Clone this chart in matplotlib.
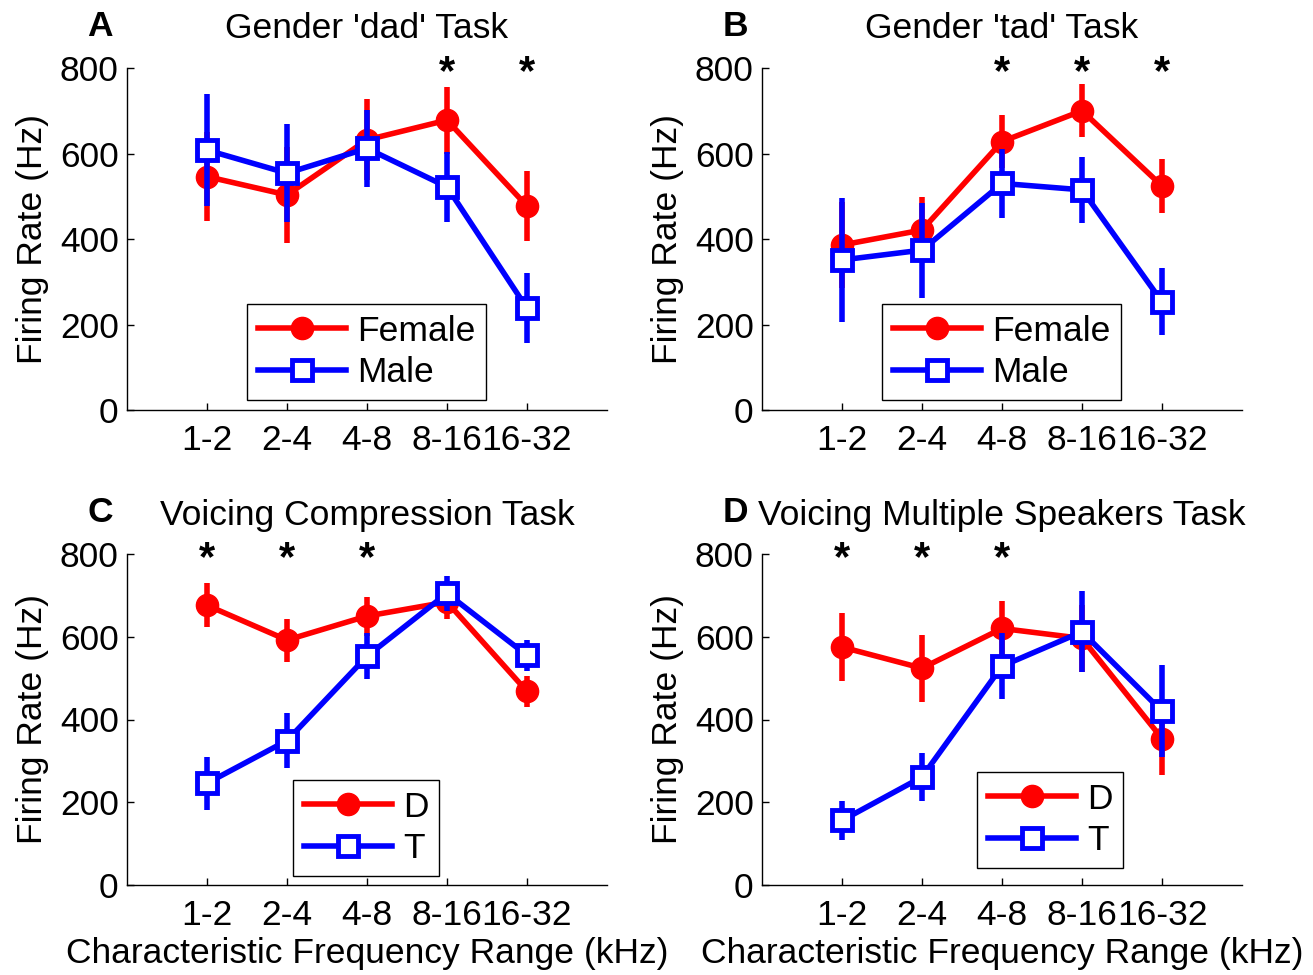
import matplotlib
matplotlib.use("Agg")
import matplotlib.pyplot as plt
from matplotlib.lines import Line2D
import numpy as np

plt.rcParams['font.family'] = ['Liberation Sans', 'DejaVu Sans']

ranges = ["1-2", "2-4", "4-8", "8-16", "16-32"]

# Panel A: Gender 'dad' task
a_female = [546, 503, 632, 678, 477]
a_female_err = [105, 112, 95, 78, 82]
a_male = [608, 554, 612, 522, 238]
a_male_err = [131, 115, 90, 82, 82]
a_stars = [4, 5]

# Panel B: Gender 'tad' task
b_female = [386, 421, 628, 700, 524]
b_female_err = [100, 78, 62, 62, 63]
b_male = [351, 374, 530, 515, 253]
b_male_err = [145, 111, 81, 77, 78]
b_stars = [3, 4, 5]

# Panel C: Voicing compression task
c_d = [676, 592, 650, 684, 468]
c_d_err = [53, 52, 47, 40, 37]
c_t = [246, 349, 553, 705, 555]
c_t_err = [64, 66, 55, 43, 37]
c_stars = [1, 2, 3]

# Panel D: Voicing multiple speakers task
d_d = [575, 524, 620, 596, 354]
d_d_err = [83, 81, 67, 80, 88]
d_t = [156, 261, 529, 612, 420]
d_t_err = [48, 58, 80, 98, 111]
d_stars = [1, 2, 3]

W, H = 1313, 975
fig = plt.figure(figsize=(W / 100, H / 100), dpi=100)

FS = 25.5
RED = '#ff0000'
BLUE = '#0000ff'


def px_axes(left, top, right, bottom):
    return fig.add_axes([left / W, 1 - bottom / H, (right - left) / W, (bottom - top) / H])


panels = [
    dict(rect=(127, 68, 607, 410), letter='A', title="Gender 'dad' Task",
         s1=(a_female, a_female_err, 'Female'), s2=(a_male, a_male_err, 'Male'),
         stars=a_stars, leg=(0.25, 0.029), xlabel=False),
    dict(rect=(762, 68, 1242, 410), letter='B', title="Gender 'tad' Task",
         s1=(b_female, b_female_err, 'Female'), s2=(b_male, b_male_err, 'Male'),
         stars=b_stars, leg=(0.25, 0.029), xlabel=False),
    dict(rect=(127, 554, 607, 885), letter='C', title="Voicing Compression Task",
         s1=(c_d, c_d_err, 'D'), s2=(c_t, c_t_err, 'T'),
         stars=c_stars, leg=(0.346, 0.027), xlabel=True),
    dict(rect=(762, 554, 1242, 885), letter='D', title="Voicing Multiple Speakers Task",
         s1=(d_d, d_d_err, 'D'), s2=(d_t, d_t_err, 'T'),
         stars=d_stars, leg=(0.448, 0.051), xlabel=True),
]

x = np.arange(1, len(ranges) + 1)

for p in panels:
    ax = px_axes(*p['rect'])
    v1, e1, l1 = p['s1']
    v2, e2, l2 = p['s2']
    st1 = dict(color=RED, lw=4, marker='o', ms=16, mfc=RED, mec=RED)
    st2 = dict(color=BLUE, lw=4, marker='s', ms=14, mfc='white', mec=BLUE, mew=3.5)
    ax.errorbar(x, v1, yerr=e1, elinewidth=4, capsize=0, zorder=3, **st1)
    ax.errorbar(x, v2, yerr=e2, elinewidth=4, capsize=0, zorder=4, **st2)
    for s in p['stars']:
        ax.text(s, 788, '*', ha='center', va='center', fontsize=30,
                fontweight='bold', color='black', clip_on=False)
    ax.set_xlim(0, 6)
    ax.set_ylim(0, 800)
    ax.set_xticks(x)
    ax.set_xticklabels(ranges, fontsize=FS)
    ax.set_yticks([0, 200, 400, 600, 800])
    ax.set_yticklabels(['0', '200', '400', '600', '800'], fontsize=FS)
    ax.tick_params(direction='in', length=5, width=1, colors='black')
    ax.tick_params(axis='x', pad=10)
    ax.tick_params(axis='y', pad=6)
    ax.spines['top'].set_visible(False)
    ax.spines['right'].set_visible(False)
    ax.spines['left'].set_linewidth(1)
    ax.spines['bottom'].set_linewidth(1)
    ax.set_ylabel('Firing Rate (Hz)', fontsize=FS, labelpad=8)
    if p['xlabel']:
        ax.set_xlabel('Characteristic Frequency Range (kHz)', fontsize=FS, labelpad=4)
    handles = [Line2D([], [], **st1), Line2D([], [], **st2)]
    leg = ax.legend(handles, [l1, l2], loc='lower left', bbox_to_anchor=p['leg'],
                    fontsize=FS, frameon=True, fancybox=False, edgecolor='black',
                    framealpha=1, handlelength=2.5, handletextpad=0.3,
                    borderpad=0.3, labelspacing=0.25, borderaxespad=0)
    leg.get_frame().set_linewidth(1)
    left, top, right, bottom = p['rect']
    ytitle = top - 39
    fig.text((left - 27) / W, 1 - (ytitle - 3) / H, p['letter'], fontsize=FS,
             fontweight='bold', ha='center', va='center')
    fig.text((left + right) / 2 / W, 1 - ytitle / H, p['title'], fontsize=FS,
             ha='center', va='center')

fig.savefig('out.png', dpi=100, facecolor='white')
